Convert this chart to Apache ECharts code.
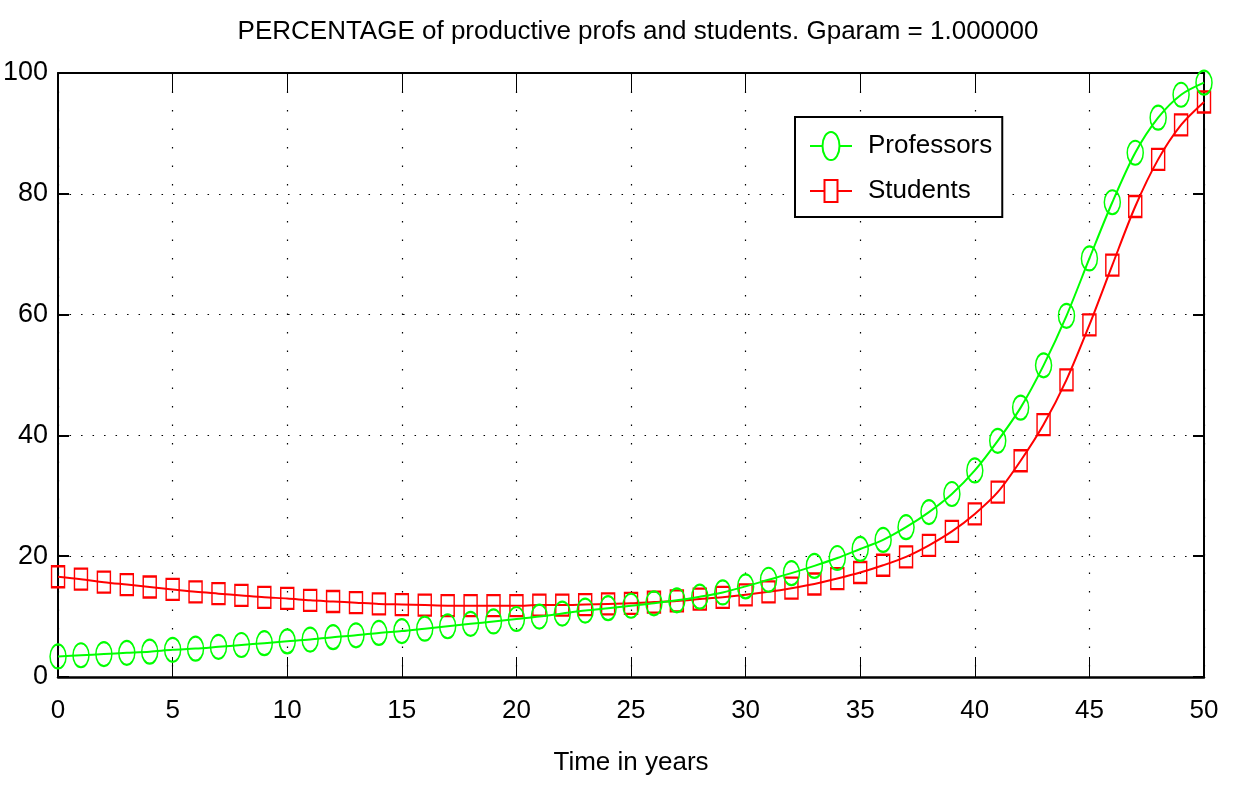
<!DOCTYPE html>
<html>
<head>
<meta charset="utf-8">
<script src="https://cdn.jsdelivr.net/npm/echarts@6/dist/echarts.min.js"></script>
<style>
html,body{margin:0;padding:0;background:#fff;}
#chart{width:1234px;height:786px;}
</style>
</head>
<body>
<div id="chart"></div>
<script>
var years = [0,1,2,3,4,5,6,7,8,9,10,11,12,13,14,15,16,17,18,19,20,21,22,23,24,25,26,27,28,29,30,31,32,33,34,35,36,37,38,39,40,41,42,43,44,45,46,47,48,49,50];
var professors = [3.4,3.6,3.8,4.0,4.2,4.5,4.7,5.0,5.3,5.6,5.9,6.2,6.6,6.9,7.3,7.6,8.0,8.4,8.8,9.2,9.6,10.0,10.5,11.0,11.4,11.8,12.2,12.7,13.3,14.0,15.0,16.1,17.2,18.4,19.7,21.2,22.7,24.8,27.3,30.3,34.2,39.1,44.6,51.6,59.8,69.3,78.6,86.8,92.6,96.4,98.4];
var students = [16.6,16.2,15.7,15.3,14.9,14.5,14.1,13.8,13.5,13.2,13.0,12.7,12.5,12.3,12.1,12.0,11.9,11.8,11.8,11.8,11.8,11.9,11.9,12.0,12.1,12.2,12.4,12.6,12.9,13.2,13.6,14.1,14.7,15.4,16.3,17.3,18.5,19.9,21.8,24.1,27.0,30.6,35.8,41.8,49.2,58.3,68.2,77.9,85.7,91.4,95.2];
var xTicks = {min: 0, max: 50, interval: 5};
var yTicks = {min: 0, max: 100, interval: 20};
var titleText = 'PERCENTAGE of productive profs and students. Gparam = 1.000000';
var xName = 'Time in years';
var seriesNames = ['Professors', 'Students'];

var FONT = "'Liberation Sans', Arial, sans-serif";
var ellipse = 'path://M0,10 A10,10 0 1,1 20,10 A10,10 0 1,1 0,10 Z';
// legend icons: line through a tall ellipse / a tall square
var legendCircle = 'path://M0,14 H12.5 M29.5,14 H42 M12.5,14 A8.5,14 0 1,1 29.5,14 A8.5,14 0 1,1 12.5,14 Z';
var legendSquare = 'path://M0,11 H14.5 M27.5,11 H42 M14.5,0 H27.5 V22 H14.5 Z';

function pairs(vals) { return years.map(function (y, i) { return [y, vals[i]]; }); }

var chart = echarts.init(document.getElementById('chart'), null, {renderer: 'canvas'});
chart.setOption({
  backgroundColor: '#fff',
  animation: false,
  title: {
    text: titleText,
    left: 633, top: 14, textAlign: 'center',
    textStyle: {fontFamily: FONT, fontSize: 26, fontWeight: 'normal', color: '#000'}
  },
  legend: {
    orient: 'vertical',
    left: 795, top: 117,
    padding: [14, 10, 13, 14],
    itemWidth: 42, itemHeight: 28, itemGap: 17,
    symbolKeepAspect: true,
    borderColor: '#000', borderWidth: 2, backgroundColor: '#fff',
    textStyle: {fontFamily: FONT, fontSize: 26, color: '#000', padding: [0, 0, 0, 11]},
    data: [
      {name: seriesNames[0], icon: legendCircle,
       itemStyle: {color: 'rgba(0,0,0,0)', borderColor: '#00ff00', borderWidth: 2}},
      {name: seriesNames[1], icon: legendSquare,
       itemStyle: {color: 'rgba(0,0,0,0)', borderColor: '#ff0000', borderWidth: 2}}
    ]
  },
  grid: {left: 58, right: 30, top: 73, bottom: 109, containLabel: false},
  xAxis: [{
    type: 'value', min: xTicks.min, max: xTicks.max, interval: xTicks.interval,
    name: xName, nameLocation: 'middle', nameGap: 73,
    nameTextStyle: {fontFamily: FONT, fontSize: 26, color: '#000'},
    axisLine: {onZero: false, lineStyle: {color: '#000', width: 2.5}},
    axisTick: {inside: true, length: 20, lineStyle: {color: '#000', width: 1}},
    axisLabel: {fontFamily: FONT, fontSize: 26, color: '#000', margin: 21},
    splitLine: {show: true, lineStyle: {color: '#000', width: 1.2, type: [1.5, 17]}}
  }, {
    type: 'value', position: 'top', min: xTicks.min, max: xTicks.max, interval: xTicks.interval,
    axisLine: {onZero: false, lineStyle: {color: '#000', width: 2}},
    axisTick: {inside: true, length: 20, lineStyle: {color: '#000', width: 1}},
    axisLabel: {show: false}, splitLine: {show: false}
  }],
  yAxis: [{
    type: 'value', min: yTicks.min, max: yTicks.max, interval: yTicks.interval,
    axisLine: {show: true, onZero: false, lineStyle: {color: '#000', width: 2}},
    axisTick: {show: true, inside: true, length: 11, lineStyle: {color: '#000', width: 2}},
    axisLabel: {fontFamily: FONT, fontSize: 27, color: '#000', margin: 10},
    splitLine: {show: true, lineStyle: {color: '#000', width: 1.2, type: [1.5, 10]}}
  }, {
    type: 'value', position: 'right', min: yTicks.min, max: yTicks.max, interval: yTicks.interval,
    axisLine: {show: true, onZero: false, lineStyle: {color: '#000', width: 2}},
    axisTick: {show: true, inside: true, length: 11, lineStyle: {color: '#000', width: 2}},
    axisLabel: {show: false}, splitLine: {show: false}
  }],
  series: [{
    name: seriesNames[0], type: 'line', data: pairs(professors), smooth: 0.3,
    symbol: ellipse, symbolSize: [16, 24], symbolKeepAspect: false,
    lineStyle: {color: '#00ff00', width: 2},
    itemStyle: {color: 'rgba(0,0,0,0)', borderColor: '#00ff00', borderWidth: 1.8},
    z: 3
  }, {
    name: seriesNames[1], type: 'line', data: pairs(students), smooth: 0.3,
    symbol: 'rect', symbolSize: [13, 21],
    lineStyle: {color: '#ff0000', width: 2},
    itemStyle: {color: 'rgba(0,0,0,0)', borderColor: '#ff0000', borderWidth: 1.8},
    z: 2
  }]
});
</script>
</body>
</html>
